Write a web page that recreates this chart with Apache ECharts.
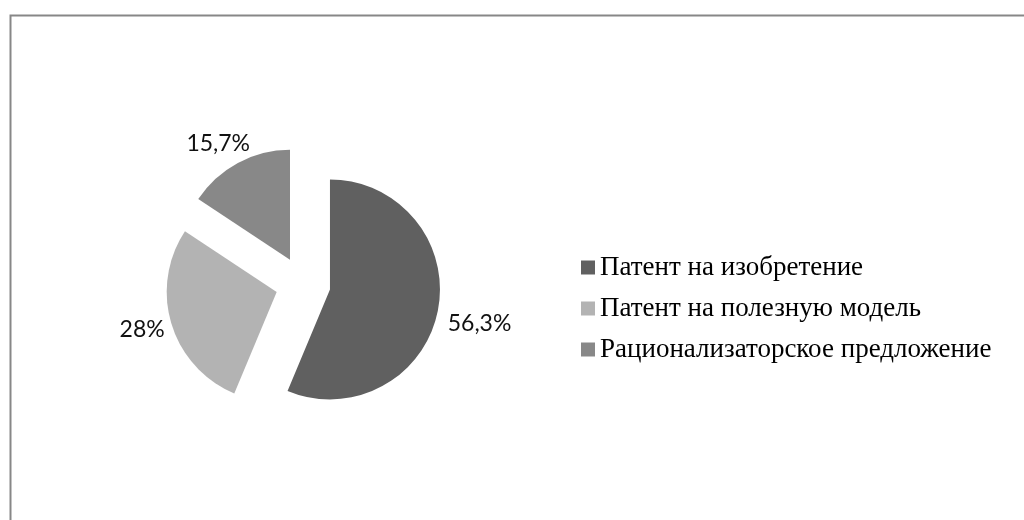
<!DOCTYPE html>
<html>
<head>
<meta charset="utf-8">
<script src="https://cdn.jsdelivr.net/npm/echarts@6/dist/echarts.min.js"></script>
<style>
  html, body { margin: 0; padding: 0; background: #fff; }
  #chart { width: 1024px; height: 520px; }
</style>
</head>
<body>
<div id="chart"></div>
<script>
// категории и доли (%)
const categories = ['Патент на изобретение', 'Патент на полезную модель', 'Рационализаторское предложение'];
const shares = [56.3, 28, 15.7];
const colors = ['#606060', '#b3b3b3', '#888888'];
// сдвиг подписей как в Excel
const labelShift = [[-3, 11], [6, 4], [22, -14]];

const chart = echarts.init(document.getElementById('chart'));

const pieData = categories.map(function (name, i) {
    return { name: name, value: shares[i], selected: true, itemStyle: { color: colors[i] } };
});

const option = {
    animation: false,
    backgroundColor: '#fff',
    graphic: [{
        // рамка области диаграммы
        type: 'rect',
        left: 8, top: 13,
        shape: { width: 1100, height: 600 },
        style: { fill: 'none', stroke: '#878787', lineWidth: 2 },
        silent: true
    }],
    legend: {
        orient: 'vertical',
        left: 576,
        top: 249,
        itemWidth: 14,
        itemHeight: 14,
        itemGap: 14,
        icon: 'rect',
        selectedMode: false,
        textStyle: {
            fontFamily: 'Liberation Serif',
            fontSize: 27,
            lineHeight: 27,
            color: '#000'
        },
        data: categories
    },
    series: [{
        type: 'pie',
        center: [303, 284],
        radius: 110,
        startAngle: 90,
        clockwise: true,
        selectedMode: 'multiple',
        selectedOffset: 27.5,
        emphasis: { disabled: true },
        label: {
            show: true,
            position: 'outside',
            fontFamily: 'Lato',
            fontSize: 23,
            color: '#111',
            formatter: function (p) {
                return String(p.value).replace('.', ',') + '%';
            }
        },
        labelLine: { show: false, length: 6, length2: 2 },
        labelLayout: function (p) {
            return { dx: labelShift[p.dataIndex][0], dy: labelShift[p.dataIndex][1] };
        },
        data: pieData
    }]
};

chart.setOption(option);
</script>
</body>
</html>
